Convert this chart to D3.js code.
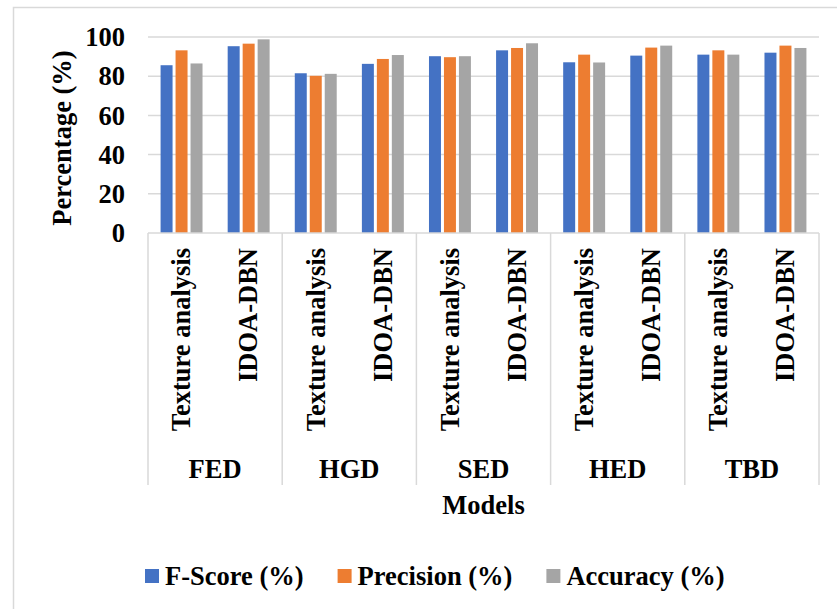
<!DOCTYPE html>
<html>
<head>
<meta charset="utf-8">
<script src="https://cdn.jsdelivr.net/npm/d3@7"></script>
<style>
  html, body { margin: 0; padding: 0; background: #fff; }
  svg { display: block; }
</style>
</head>
<body>
<svg id="chart" width="837" height="609"></svg>
<script>
const groups = ["FED", "HGD", "SED", "HED", "TBD"];
const models = ["Texture analysis", "IDOA-DBN"];
const seriesNames = ["F-Score (%)", "Precision (%)", "Accuracy (%)"];
const fScore    = [85.6, 95.3, 81.5, 86.3, 90.2, 93.2, 87.1, 90.5, 91.0, 92.0];
const precision = [93.2, 96.6, 80.2, 88.8, 89.7, 94.4, 91.0, 94.6, 93.2, 95.6];
const accuracy  = [86.5, 98.8, 81.2, 90.8, 90.2, 96.8, 87.0, 95.6, 91.0, 94.4];
const yTicks = [0, 20, 40, 60, 80, 100];
const colors = ["#4472c4", "#ed7d31", "#a5a5a5"];
const seriesValues = [fScore, precision, accuracy];

const FONT = "'Liberation Serif', 'Times New Roman', Tinos, 'DejaVu Serif', serif";
const svg = d3.select("#chart");
const grid = "#d9d9d9";
function txt(sel) {
  return sel.attr("font-family", FONT).attr("font-weight", "bold").attr("fill", "#000").attr("font-size", 26.5);
}

// outer border (chart area frame, cropped on right/bottom)
svg.append("path").attr("d", "M13.5,609 V7.5 H837")
  .attr("fill", "none").attr("stroke", grid).attr("stroke-width", 1.5);

const pLeft = 148, pRight = 819, pTop = 37, pBottom = 233;
const y = d3.scaleLinear().domain([0, 100]).range([pBottom, pTop]);
const x0 = d3.scaleBand().domain(groups).range([pLeft, pRight]).padding(0);
const x1 = d3.scaleBand().domain(models).range([0, x0.bandwidth()]).padding(0);
const x2 = d3.scaleBand().domain(seriesNames).range([0, x1.bandwidth()])
  .paddingInner(0.2).paddingOuter(0.84);

// gridlines
svg.append("g").selectAll("line").data(yTicks.filter(d => d > 0)).join("line")
  .attr("x1", pLeft).attr("x2", pRight)
  .attr("y1", d => y(d)).attr("y2", d => y(d))
  .attr("stroke", grid).attr("stroke-width", 1.5);

// y tick labels
const yAxis = d3.axisLeft(y).tickValues(yTicks).tickSize(0).tickPadding(0);
const yg = svg.append("g").attr("transform", `translate(125,0)`).call(yAxis);
yg.attr("font-family", FONT);
yg.select(".domain").remove();
txt(yg.selectAll("text")).attr("dy", "0.33em");

// y title
txt(svg.append("text")).attr("transform", "translate(71,138) rotate(-90)")
  .attr("text-anchor", "middle").text("Percentage (%)");

// bars
const rows = [];
groups.forEach((g, gi) => models.forEach((m, mi) => {
  seriesNames.forEach((s, si) => rows.push({ g, m, s, si, v: seriesValues[si][gi * models.length + mi] }));
}));
svg.append("g").selectAll("rect").data(rows).join("rect")
  .attr("x", d => x0(d.g) + x1(d.m) + x2(d.s))
  .attr("width", x2.bandwidth())
  .attr("y", d => y(d.v))
  .attr("height", d => y(0) - y(d.v))
  .attr("fill", d => colors[d.si]);

// category axis box
const axisG = svg.append("g").attr("stroke", grid).attr("stroke-width", 1.5);
axisG.append("line").attr("x1", pLeft).attr("x2", pRight).attr("y1", pBottom).attr("y2", pBottom);
const seps = groups.map(g => x0(g)).concat([pRight]);
axisG.selectAll("line.sep").data(seps).join("line").attr("class", "sep")
  .attr("x1", d => d).attr("x2", d => d).attr("y1", pBottom).attr("y2", 485);

// model labels (rotated)
groups.forEach(g => {
  models.forEach(m => {
    const cx = x0(g) + x1(m) + x1.bandwidth() / 2;
    txt(svg.append("text")).attr("transform", `translate(${cx},248) rotate(-90)`)
      .attr("text-anchor", "end").attr("dy", "0.33em").text(m);
  });
  txt(svg.append("text")).attr("x", x0(g) + x0.bandwidth() / 2).attr("y", 478)
    .attr("text-anchor", "middle").text(g);
});

// x title
txt(svg.append("text")).attr("x", (pLeft + pRight) / 2).attr("y", 514)
  .attr("text-anchor", "middle").text("Models");

// legend
let lx = 145;
seriesNames.forEach((s, i) => {
  svg.append("rect").attr("x", lx).attr("y", 569).attr("width", 14).attr("height", 14).attr("fill", colors[i]);
  const t = txt(svg.append("text")).attr("x", lx + 20).attr("y", 585).text(s);
  lx += 20 + t.node().getComputedTextLength() + 34;
});
</script>
</body>
</html>
